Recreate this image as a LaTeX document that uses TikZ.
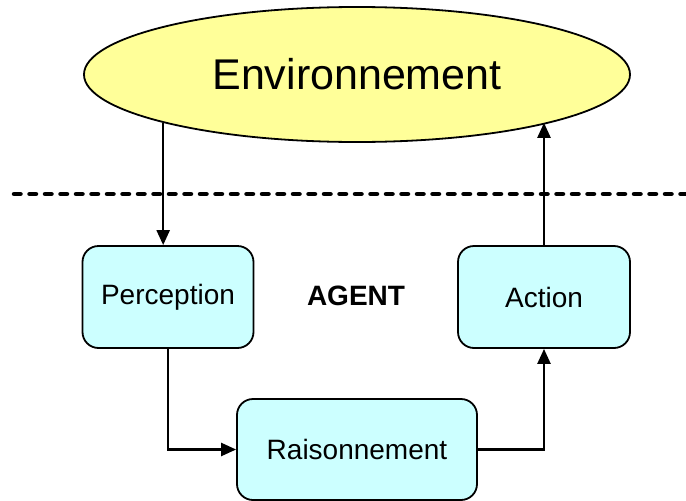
\documentclass[tikz,border=0pt]{standalone}
\usepackage{fontspec}
\setmainfont{Liberation Sans}
\usetikzlibrary{shapes.geometric,arrows.meta}
\definecolor{envfill}{HTML}{FFFF99}
\definecolor{boxfill}{HTML}{CCFFFF}
\tikzset{
  envnode/.style={ellipse, draw=black, line width=1.8pt, fill=envfill,
    minimum width=546pt, minimum height=135pt, inner sep=0pt,
    font=\fontsize{43}{50}\selectfont},
  stagebox/.style={rectangle, rounded corners=16pt, draw=black, line width=1.8pt,
    fill=boxfill, inner sep=0pt, font=\fontsize{28}{34}\selectfont},
  flow/.style={line width=2.4pt, -{Triangle[length=15pt,width=13pt]}},
  boundary/.style={line width=4.5pt, line cap=round, dash pattern=on 6.5pt off 9pt}
}
\begin{document}
\begin{tikzpicture}[x=1pt,y=-1pt]
  \useasboundingbox (0,0) rectangle (686,501);

  % environment and the agent boundary
  \node[envnode] (env) at (357,74.5) {Environnement};
  \coordinate (bl) at (14,194);
  \coordinate (br) at (686,194);
  \draw[boundary] (bl) -- (br);

  % the agent's three stages
  \node[stagebox, minimum width=171pt, minimum height=102pt] (perc) at (168,297) {Perception};
  \node[stagebox, minimum width=172pt, minimum height=102pt] (act) at (544,297) {Action};
  \node[stagebox, minimum width=240pt, minimum height=101pt] (reas) at (357,449.5) {Raisonnement};
  \node[font=\fontsize{28}{34}\selectfont\bfseries] (agent) at (356,296) {AGENT};

  % perception-reasoning-action loop
  \coordinate (envout) at (env.194.4);
  \coordinate (envin) at (env.-14.7);
  \draw[flow] (envout) -- (envout |- perc.north);
  \draw[flow] (perc.south) |- (reas.west);
  \draw[flow] (reas.east) -| (act.south);
  \draw[flow] (act.north) -- (act.north |- envin);
\end{tikzpicture}
\end{document}
